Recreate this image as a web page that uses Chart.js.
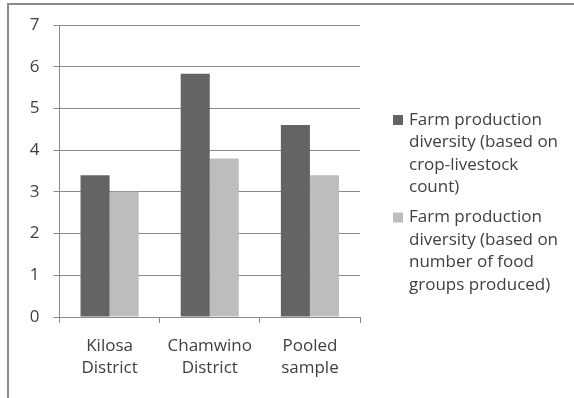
<!DOCTYPE html>
<html lang="en">
  <head>
    <meta charset="UTF-8" />
    <script src="https://cdn.jsdelivr.net/npm/chart.js@4.4.0/dist/chart.umd.min.js"></script>
    <title>Farm production diversity</title>
    <style>
      body {
        margin: 0;
        padding: 0;
        background: #fff;
      }
      .container {
        width: 574px;
        height: 398px;
      }
    </style>
  </head>
  <body>
    <div class="container">
      <canvas id="chart1"></canvas>
    </div>
    <script>
      const categories = [['Kilosa', 'District'], ['Chamwino', 'District'], ['Pooled', 'sample']]
      const cropLivestock = [3.4, 5.83, 4.6]
      const foodGroups = [3.0, 3.8, 3.4]
      const seriesNames = [
        'Farm production diversity (based on crop-livestock count)',
        'Farm production diversity (based on number of food groups produced)',
      ]
      const yTicks = [0, 1, 2, 3, 4, 5, 6, 7]

      const textColor = '#404040'
      const fontFamily = "'Open Sans', sans-serif"

      // frame round the chart (left + top edges visible)
      const framePlugin = {
        id: 'frame',
        beforeDraw(chart) {
          const c = chart.ctx
          c.save()
          c.strokeStyle = '#8a8a8a'
          c.lineWidth = 2
          c.beginPath()
          c.moveTo(8, 398)
          c.lineTo(8, 4)
          c.lineTo(574, 4)
          c.stroke()
          c.restore()
        },
      }

      // legend on the right with wrapped text
      const wrapLegend = {
        id: 'wrapLegend',
        afterDraw(chart) {
          const c = chart.ctx
          c.save()
          c.font = '17px ' + fontFamily
          c.textBaseline = 'middle'
          const maxW = 156
          const lineH = 22.5
          const x = 393
          let y = 120
          chart.data.datasets.forEach((ds) => {
            const words = ds.label.split(' ')
            const lines = []
            let cur = ''
            words.forEach((w) => {
              const t = cur ? cur + ' ' + w : w
              if (c.measureText(t).width > maxW && cur) {
                lines.push(cur)
                cur = w
              } else {
                cur = t
              }
            })
            lines.push(cur)
            c.fillStyle = ds.backgroundColor
            c.fillRect(x, y - 5, 10, 10)
            c.fillStyle = textColor
            lines.forEach((l, i) => c.fillText(l, x + 16, y + i * lineH))
            y += lines.length * lineH + 7.5
          })
          c.restore()
        },
      }

      new Chart(document.getElementById('chart1'), {
        type: 'bar',
        data: {
          labels: categories,
          datasets: [
            { label: seriesNames[0], data: cropLivestock, backgroundColor: '#646464' },
            { label: seriesNames[1], data: foodGroups, backgroundColor: '#bdbdbd' },
          ],
        },
        options: {
          responsive: true,
          maintainAspectRatio: false,
          animation: false,
          layout: { padding: { top: 25, right: 214, left: 0, bottom: 0 } },
          datasets: { bar: { barPercentage: 1, categoryPercentage: 0.58 } },
          plugins: {
            legend: { display: false },
            tooltip: { enabled: false },
          },
          scales: {
            x: {
              afterFit: (s) => { s.height = 81 },
              grid: { offset: true, drawOnChartArea: false, color: '#8a8a8a', tickLength: 6 },
              border: { color: '#8a8a8a' },
              ticks: {
                color: textColor,
                font: { family: fontFamily, size: 17, lineHeight: 1.25 },
                padding: 13,
                maxRotation: 0,
              },
            },
            y: {
              min: 0,
              max: 7,
              afterFit: (s) => { s.width = 59.5 },
              afterBuildTicks: (s) => { s.ticks = yTicks.map((v) => ({ value: v })) },
              grid: { color: '#8a8a8a', tickLength: 6 },
              border: { color: '#8a8a8a' },
              ticks: { color: textColor, font: { family: fontFamily, size: 17 }, padding: 14 },
            },
          },
        },
        plugins: [framePlugin, wrapLegend],
      })
    </script>
  </body>
</html>
